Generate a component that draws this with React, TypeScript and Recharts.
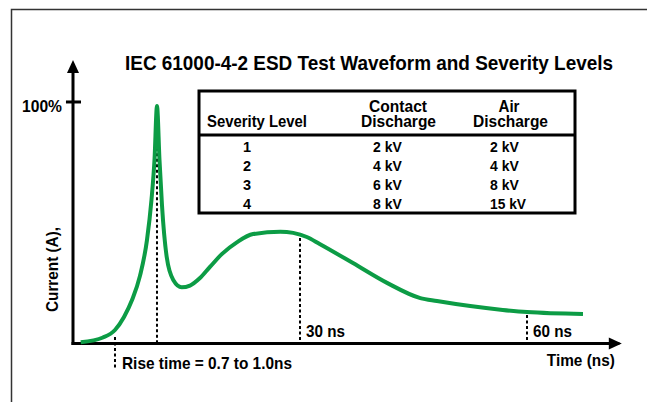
import { Customized, Line, LineChart, ReferenceDot, ReferenceLine, XAxis, YAxis } from 'recharts';

// waveform (time in ns, current in % of peak)
const timeNs = [
  1.02, 3.96, 5.55, 6.74, 7.8, 8.85, 9.78, 10.37, 10.77, 11.1, 11.43, 11.76, 12.38, 13.25, 14.36, 15.46, 16.78,
  18.1, 19.7, 21.7, 23.8, 27.4, 29.1, 30.9, 32.6, 37.0, 41.5, 45.9, 48.1, 52.5, 56.8, 60.0, 67.4,
];
const currentPct = [
  0.5, 2.5, 5.6, 11, 18, 28, 42.9, 59.4, 76, 98.3, 76, 57.3, 35.9, 26.3, 23.3, 24.0, 27.1,
  31.7, 37.1, 42, 45.3, 46.3, 45.8, 44.1, 41.2, 33.3, 25.1, 18.8, 17.6, 15.5, 13.9, 13.0, 12.2,
];

const severityLevels = ['1', '2', '3', '4'];
const contactKV = ['2 kV', '4 kV', '6 kV', '8 kV'];
const airKV = ['2 kV', '4 kV', '8 kV', '15 kV'];

const riseTime = 5.55;
const peakTime = 11.1;
const markerTimes = [30, 60];
const markerTops = [43.7, 11.8];
const markerLabels = ['30 ns', '60 ns'];
const fullScale = 100;

const data = timeNs.map((t, i) => ({ t, current: currentPct[i] }));

const FONT = '"Liberation Sans", Arial, Helvetica, sans-serif';
const GREEN = '#0c9c45';

const textStyle = { fontFamily: FONT, fontWeight: 700, fill: '#000' };
const squeeze = { lengthAdjust: 'spacingAndGlyphs' as const };

const Decorations = () => (
  <g>
    <path d="M11.5,402 V9.5 H647" fill="none" stroke="#333" strokeWidth={1.5} />
    <text x={369} y={70} textAnchor="middle" fontSize={21} textLength={488} {...squeeze} {...textStyle}>
      IEC 61000-4-2 ESD Test Waveform and Severity Levels
    </text>
    <text
      x={57.5}
      y={269.5}
      textAnchor="middle"
      fontSize={17}
      textLength={85}
      {...squeeze}
      transform="rotate(-90, 57.5, 269.5)"
      {...textStyle}
    >
      Current (A),
    </text>

    <rect x={199} y={91} width={376} height={122} fill="#fff" stroke="#000" strokeWidth={3} />
    <line x1={199} x2={575} y1={135} y2={135} stroke="#000" strokeWidth={3} />
    <text x={207} y={126.5} fontSize={16.5} textLength={100} {...squeeze} {...textStyle}>
      Severity Level
    </text>
    <text x={398} y={111.5} textAnchor="middle" fontSize={16} textLength={58} {...squeeze} {...textStyle}>
      Contact
    </text>
    <text x={398.5} y={126.5} textAnchor="middle" fontSize={16} textLength={75} {...squeeze} {...textStyle}>
      Discharge
    </text>
    <text x={509} y={111.5} textAnchor="middle" fontSize={16} textLength={21} {...squeeze} {...textStyle}>
      Air
    </text>
    <text x={510.5} y={126.5} textAnchor="middle" fontSize={16} textLength={75} {...squeeze} {...textStyle}>
      Discharge
    </text>
    {severityLevels.map((lvl, i) => (
      <g key={lvl}>
        <text x={247} y={152 + i * 18.9} textAnchor="middle" fontSize={14.5} {...textStyle}>
          {lvl}
        </text>
        <text x={373} y={152 + i * 18.9} fontSize={14.5} textLength={contactKV[i].length * 7.2} {...squeeze} {...textStyle}>
          {contactKV[i]}
        </text>
        <text x={490} y={152 + i * 18.9} fontSize={14.5} textLength={airKV[i].length * 7.2} {...squeeze} {...textStyle}>
          {airKV[i]}
        </text>
      </g>
    ))}
  </g>
);

const dashProps = { stroke: '#000', strokeWidth: 2, strokeDasharray: '3 2.5', ifOverflow: 'visible' as const };
const axisProps = { stroke: '#000', strokeWidth: 3, strokeLinecap: 'square' as const, ifOverflow: 'visible' as const };

export default function App() {
  return (
    <div style={{ position: 'absolute', left: 0, top: 0, width: 647, height: 402, background: '#fff' }}>
      <LineChart width={647} height={402} data={data} margin={{ top: 73, right: 29.2, bottom: 58.5, left: 73 }}>
        <Customized component={Decorations} />
        <XAxis type="number" dataKey="t" domain={[0, 72]} hide />
        <YAxis type="number" domain={[0, 112]} hide />
        <ReferenceLine segment={[{ x: 0, y: 0 }, { x: 72, y: 0 }]} {...axisProps} />
        <ReferenceLine segment={[{ x: 0, y: 0 }, { x: 0, y: 112 }]} {...axisProps} />
        <ReferenceLine segment={[{ x: -0.93, y: fullScale }, { x: 1.06, y: fullScale }]} {...axisProps} strokeLinecap="butt" />
        <ReferenceLine segment={[{ x: riseTime, y: 2.7 }, { x: riseTime, y: -11 }]} {...dashProps} />
        <ReferenceLine segment={[{ x: peakTime, y: 97 }, { x: peakTime, y: 0 }]} {...dashProps} />
        {markerTimes.map((t, i) => (
          <ReferenceLine key={t} segment={[{ x: t, y: markerTops[i] }, { x: t, y: 0 }]} {...dashProps} />
        ))}
        <Line
          type="monotone"
          dataKey="current"
          stroke={GREEN}
          strokeWidth={4}
          dot={false}
          activeDot={false}
          isAnimationActive={false}
        />
        <ReferenceDot
          x={0}
          y={fullScale}
          ifOverflow="visible"
          shape={(p: any) => (
            <text x={p.cx - 11} y={p.cy + 10.5} textAnchor="end" fontSize={17} textLength={40} {...squeeze} {...textStyle}>
              {fullScale}%
            </text>
          )}
        />
        {markerTimes.map((t, i) => (
          <ReferenceDot
            key={`lbl-${t}`}
            x={t}
            y={0}
            ifOverflow="visible"
            shape={(p: any) => (
              <text x={p.cx + 6} y={p.cy - 6.5} fontSize={17} textLength={39} {...squeeze} {...textStyle}>
                {markerLabels[i]}
              </text>
            )}
          />
        ))}
        <ReferenceDot
          x={riseTime}
          y={0}
          ifOverflow="visible"
          shape={(p: any) => (
            <text x={p.cx + 7} y={p.cy + 25.5} fontSize={17} textLength={170} {...squeeze} {...textStyle}>
              Rise time = 0.7 to 1.0ns
            </text>
          )}
        />
        <ReferenceDot
          x={72}
          y={0}
          ifOverflow="visible"
          shape={(p: any) => (
            <g>
              <polygon points={`${p.cx - 9},${p.cy - 6} ${p.cx - 9},${p.cy + 6} ${p.cx + 4},${p.cy}`} fill="#000" />
              <text x={p.cx - 3} y={p.cy + 22.5} textAnchor="end" fontSize={17} textLength={68} {...squeeze} {...textStyle}>
                Time (ns)
              </text>
            </g>
          )}
        />
        <ReferenceDot
          x={0}
          y={112}
          ifOverflow="visible"
          shape={(p: any) => (
            <polygon points={`${p.cx - 6},${p.cy} ${p.cx + 6},${p.cy} ${p.cx},${p.cy - 13}`} fill="#000" />
          )}
        />
      </LineChart>
    </div>
  );
}
